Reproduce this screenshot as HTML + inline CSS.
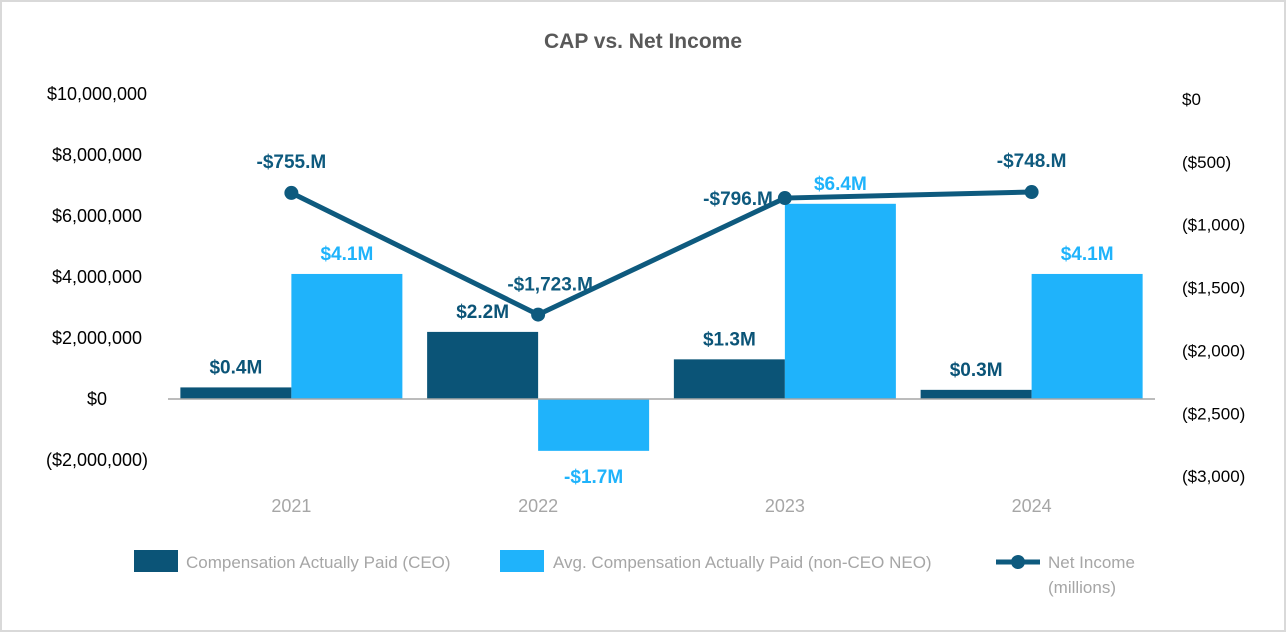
<!DOCTYPE html>
<html><head><meta charset="utf-8"><style>
body{margin:0;background:#fff;}
svg{display:block;font-family:"Liberation Sans",sans-serif;}
</style></head><body>
<svg id="c" width="1286" height="632">
<rect x="1" y="1" width="1284" height="630" fill="#fff" stroke="#d9d9d9" stroke-width="2"/>
<text x="643" y="48" text-anchor="middle" font-size="21" font-weight="bold" fill="#595959">CAP vs. Net Income</text>
<g id="g"></g>
</svg>
<script>
const years=["2021","2022","2023","2024"];
const ceo=[0.38,2.2,1.3,0.3];
const ceoLabels=["$0.4M","$2.2M","$1.3M","$0.3M"];
const neo=[4.1,-1.7,6.4,4.1];
const neoLabels=["$4.1M","-$1.7M","$6.4M","$4.1M"];
const netIncome=[-755,-1723,-796,-748];
const niLabels=["-$755.M","-$1,723.M","-$796.M","-$748.M"];
const leftTicks=[10,8,6,4,2,0,-2];
const leftTickLabels=["$10,000,000","$8,000,000","$6,000,000","$4,000,000","$2,000,000","$0","($2,000,000)"];
const rightTicks=[0,-500,-1000,-1500,-2000,-2500,-3000];
const rightTickLabels=["$0","($500)","($1,000)","($1,500)","($2,000)","($2,500)","($3,000)"];

const NS="http://www.w3.org/2000/svg",g=document.getElementById('g');
function el(t,a,txt){const e=document.createElementNS(NS,t);for(const k in a)e.setAttribute(k,a[k]);if(txt!=null)e.textContent=txt;g.appendChild(e);return e;}
const yL=v=>399-v*30.5;
const yR=v=>98-v*0.1257;
const x0=168,cw=246.75;
const xc=i=>x0+cw*(i+0.5);
const bw=111;
leftTicks.forEach((v,i)=>{const t=el('text',{x:97,y:yL(v)+6,'text-anchor':'middle','font-size':18,fill:'#000'},leftTickLabels[i]);
});
rightTicks.forEach((v,i)=>{const t=el('text',{x:1182,y:yR(v)+7,'font-size':17,fill:'#000'},rightTickLabels[i]);
});
years.forEach((yr,i)=>{
 const c=xc(i);
 const b1=el('rect',{x:c-bw,y:Math.min(yL(ceo[i]),yL(0)),width:bw,height:Math.abs(yL(ceo[i])-yL(0)),fill:'#0b5477'});
 
 const b2=el('rect',{x:c,y:Math.min(yL(neo[i]),yL(0)),width:bw,height:Math.abs(yL(neo[i])-yL(0)),fill:'#1fb3fb'});
 
 const l1=el('text',{x:c-bw/2,y:yL(ceo[i])-14,'text-anchor':'middle','font-size':19,'font-weight':'bold',fill:'#0b5477'},ceoLabels[i]);
 
 const ny=neo[i]>=0?yL(neo[i])-14:yL(neo[i])+32;
 const l2=el('text',{x:c+bw/2,y:ny,'text-anchor':'middle','font-size':19,'font-weight':'bold',fill:'#1fb3fb'},neoLabels[i]);
 
 const yl=el('text',{x:c,y:512,'text-anchor':'middle','font-size':18,fill:'#a6a6a6'},yr);
 
});
const ax=el('line',{x1:x0,x2:1155,y1:yL(0),y2:yL(0),stroke:'#a6a6a6','stroke-width':1.5});

const ln=el('polyline',{points:netIncome.map((v,i)=>xc(i)+','+yR(v)).join(' '),fill:'none',stroke:'#0e5a7e','stroke-width':5});

netIncome.forEach((v,i)=>{
 const p=el('circle',{cx:xc(i),cy:yR(v),r:7,fill:'#0e5a7e'});
 
 let attrs={x:xc(i),y:yR(v)-25,'text-anchor':'middle','font-size':19,'font-weight':'bold',fill:'#0e5a7e'};
 if(i===2){attrs.x=xc(i)-12;attrs.y=yR(v)+7;attrs['text-anchor']='end';}
 if(i===1){attrs.x=xc(i)+12;attrs.y=yR(v)-24;}
 const t=el('text',attrs,niLabels[i]);
 
});
const lg1=el('rect',{x:134,y:550,width:44,height:22,fill:'#0b5477'});

const lt1=el('text',{x:186,y:568,'font-size':17,fill:'#a6a6a6'},'Compensation Actually Paid (CEO)');

const lg2=el('rect',{x:500,y:550,width:44,height:22,fill:'#1fb3fb'});

const lt2=el('text',{x:553,y:568,'font-size':17,fill:'#a6a6a6'},'Avg. Compensation Actually Paid (non-CEO NEO)');

const lg3=el('line',{x1:996,x2:1040,y1:562,y2:562,stroke:'#0e5a7e','stroke-width':5});

const lg4=el('circle',{cx:1018,cy:562,r:7,fill:'#0e5a7e'});

const lt3=el('text',{x:1048,y:568,'font-size':17,fill:'#a6a6a6'},'Net Income');

const lt4=el('text',{x:1048,y:593,'font-size':17,fill:'#a6a6a6'},'(millions)');

</script>
</body></html>
